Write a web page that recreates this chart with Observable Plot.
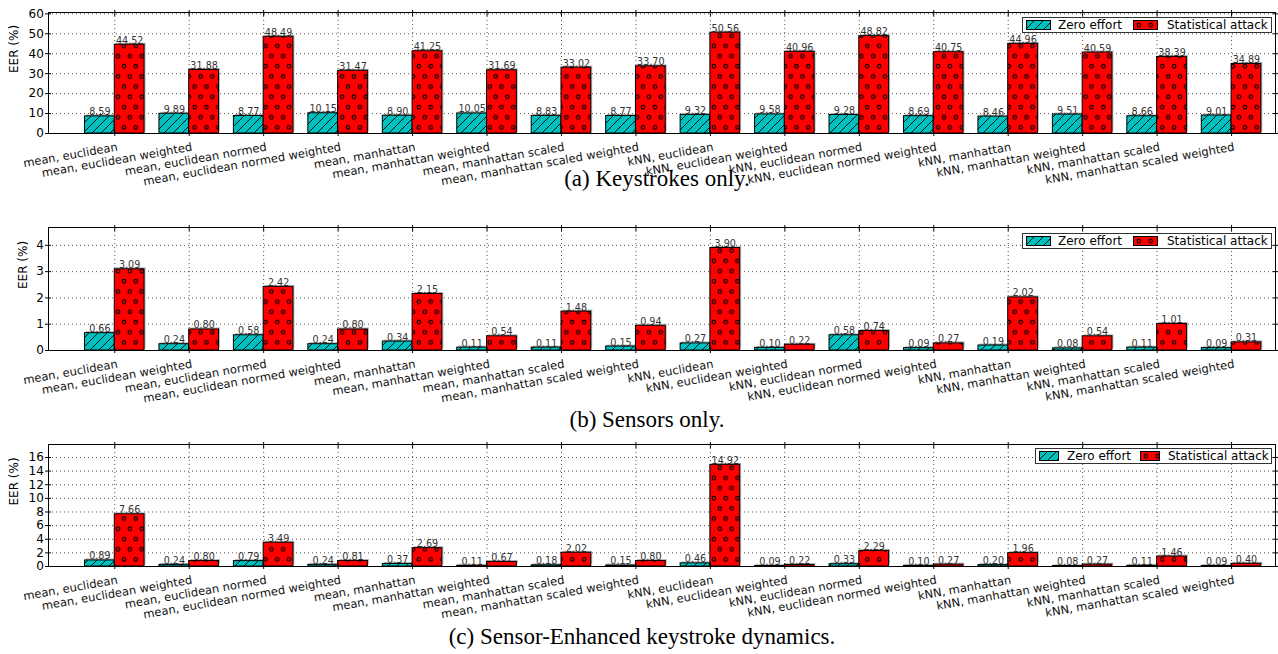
<!DOCTYPE html>
<html><head><meta charset="utf-8">
<script src="https://cdn.jsdelivr.net/npm/d3@7"></script>
<script src="https://cdn.jsdelivr.net/npm/@observablehq/plot@0.6"></script>
<style>
body{margin:0;background:#fff;width:1278px;height:654px;position:relative;overflow:hidden;font-family:"DejaVu Sans",sans-serif;}
.panel{position:absolute;left:0;}
.panel svg{overflow:visible;background:transparent;}
.caption{position:absolute;font-family:"Liberation Serif",serif;font-size:23px;line-height:23px;white-space:nowrap;transform:translateX(-50%);z-index:2;color:#000;}
.legend{position:absolute;border:1px solid #333;background:#fff;box-sizing:border-box;z-index:3;font-size:12px;color:#000;}
.legend span{position:absolute;white-space:nowrap;line-height:12px;}
.legend svg{position:absolute;}
</style></head><body>
<svg width="0" height="0" style="position:absolute">
<defs>
<pattern id="hatchC" patternUnits="userSpaceOnUse" width="9" height="9">
<rect width="9" height="9" fill="#00bfbf"/>
<path d="M0,9 L9,0 M-2,2 L2,-2 M7,11 L11,7" stroke="#000" stroke-width="0.9"/>
</pattern>
<pattern id="dotsR" patternUnits="userSpaceOnUse" width="11.8" height="20.4">
<rect width="11.8" height="20.4" fill="#ff0000"/>
<circle cx="5.9" cy="5.1" r="1.8" fill="none" stroke="#000" stroke-width="1.1"/>
<circle cx="0" cy="15.3" r="1.8" fill="none" stroke="#000" stroke-width="1.1"/>
<circle cx="11.8" cy="15.3" r="1.8" fill="none" stroke="#000" stroke-width="1.1"/>
</pattern>
</defs>
</svg>
<div id="root"></div>
<script>
// ---------- data ----------
const categories = [
  "mean, euclidean", "mean, euclidean weighted", "mean, euclidean normed", "mean, euclidean normed weighted",
  "mean, manhattan", "mean, manhattan weighted", "mean, manhattan scaled", "mean, manhattan scaled weighted",
  "kNN, euclidean", "kNN, euclidean weighted", "kNN, euclidean normed", "kNN, euclidean normed weighted",
  "kNN, manhattan", "kNN, manhattan weighted", "kNN, manhattan scaled", "kNN, manhattan scaled weighted"
];
const seriesNames = ["Zero effort", "Statistical attack"];
const yLabel = "EER (%)";

const zeroA = [8.59, 9.89, 8.77, 10.15, 8.90, 10.05, 8.83, 8.77, 9.32, 9.58, 9.28, 8.69, 8.46, 9.51, 8.66, 9.01];
const statA = [44.52, 31.88, 48.49, 31.47, 41.25, 31.69, 33.02, 33.70, 50.56, 40.96, 48.82, 40.75, 44.96, 40.59, 38.39, 34.89];
const zeroB = [0.66, 0.24, 0.58, 0.24, 0.34, 0.11, 0.11, 0.15, 0.27, 0.10, 0.58, 0.09, 0.19, 0.08, 0.11, 0.09];
const statB = [3.09, 0.80, 2.42, 0.80, 2.15, 0.54, 1.48, 0.94, 3.90, 0.22, 0.74, 0.27, 2.02, 0.54, 1.01, 0.31];
const zeroC = [0.89, 0.24, 0.79, 0.24, 0.37, 0.11, 0.18, 0.15, 0.46, 0.09, 0.33, 0.10, 0.20, 0.08, 0.11, 0.09];
const statC = [7.66, 0.80, 3.49, 0.81, 2.69, 0.67, 2.02, 0.80, 14.92, 0.22, 2.29, 0.27, 1.96, 0.27, 1.46, 0.40];

const yTicksA = [0, 10, 20, 30, 40, 50, 60];
const yTicksB = [0, 1, 2, 3, 4];
const yTicksC = [0, 2, 4, 6, 8, 10, 12, 14, 16];

const captions = ["(a) Keystrokes only.", "(b) Sensors only.", "(c) Sensor-Enhanced keystroke dynamics."];

// ---------- layout ----------
const layouts = [
  {top: 0,   marginTop: 12, plotH: 121, ylabX: 14, capX: 657, capTop: 166.5,
   legend: {left: 1022, top: 16.5, width: 250, height: 16, sw: 25, t1: 35, s2: 110, t2: 144}},
  {top: 215, marginTop: 12, plotH: 123, ylabX: 23, capX: 647, capTop: 407.5,
   legend: {left: 1022, top: 232.5, width: 250, height: 16, sw: 25, t1: 35, s2: 110, t2: 144}},
  {top: 432, marginTop: 12, plotH: 122, ylabX: 14, capX: 642, capTop: 624.5,
   legend: {left: 1035, top: 447.5, width: 237, height: 16, sw: 20, t1: 31, s2: 104, t2: 132}}
];

const root = document.getElementById("root");

function drawPanel(zero, stat, yTicks, caption, L) {
  const rows = categories.map((c, i) => ({i, c, zero: zero[i], stat: stat[i]}));
  const idx = rows.map(d => d.i);
  const ymax = d3.max(stat) * 1.2;
  const H = 200;
  const dotted = {stroke: "#000", strokeWidth: 0.8, strokeDasharray: "1,3", strokeOpacity: 0.85};
  const chart = Plot.plot({
    width: 1278, height: H,
    marginLeft: 48, marginRight: 3, marginTop: L.marginTop, marginBottom: H - L.marginTop - L.plotH,
    style: {fontFamily: "DejaVu Sans", fontSize: "12px", background: "transparent", overflow: "visible"},
    x: {type: "linear", domain: [-0.89, 15.59]},
    y: {type: "linear", domain: [0, ymax]},
    marks: [
      Plot.ruleY(yTicks, {y: d => d, ...dotted}),
      Plot.ruleX(idx, {x: d => d, ...dotted}),
      // soft shadows
      Plot.rect(rows, {x1: d => d.i - 0.4, x2: d => d.i, y1: 0, y2: "zero", fill: "#b8b8b8", dx: 1.5, dy: -1.5}),
      Plot.rect(rows, {x1: d => d.i, x2: d => d.i + 0.4, y1: 0, y2: "stat", fill: "#b8b8b8", dx: 1.5, dy: -1.5}),
      // bars
      Plot.rect(rows, {x1: d => d.i - 0.4, x2: d => d.i, y1: 0, y2: "zero", fill: "url(#hatchC)", stroke: "#000", strokeWidth: 1}),
      Plot.rect(rows, {x1: d => d.i, x2: d => d.i + 0.4, y1: 0, y2: "stat", fill: "url(#dotsR)", stroke: "#000", strokeWidth: 1}),
      // value labels
      Plot.text(rows, {x: d => d.i - 0.2, y: "zero", text: d => d.zero.toFixed(2), lineAnchor: "bottom", dy: -1, fontSize: 9.6, fill: "#333"}),
      Plot.text(rows, {x: d => d.i + 0.2, y: "stat", text: d => d.stat.toFixed(2), lineAnchor: "bottom", dy: -1, fontSize: 9.6, fill: "#333"}),
      // axes
      Plot.axisY(yTicks, {anchor: "left", tickSize: 6, dx: 3, tickPadding: 1.7, label: null}),
      Plot.axisY(yTicks, {anchor: "right", tickSize: 6, dx: -3, tickFormat: () => "", label: null}),
      Plot.axisX(idx, {anchor: "bottom", tickSize: 6, dy: -3, tickFormat: () => "", label: null}),
      Plot.axisX(idx, {anchor: "top", tickSize: 6, dy: 3, tickFormat: () => "", label: null}),
      Plot.frame({stroke: "#000", strokeWidth: 1}),
      // category labels
      Plot.text(rows, {x: "i", y: 0, text: "c", rotate: -10, textAnchor: "end", lineAnchor: "top", dx: 2, dy: 9, fontSize: 11.5, fill: "#111"}),
      // y label
      Plot.text([yLabel], {frameAnchor: "left", text: d => d, rotate: -90, dx: L.ylabX - 48})
    ]
  });
  const wrap = document.createElement("div");
  wrap.className = "panel";
  wrap.style.top = L.top + "px";
  wrap.appendChild(chart);
  root.appendChild(wrap);

  const cap = document.createElement("div");
  cap.className = "caption";
  cap.textContent = caption;
  cap.style.left = L.capX + "px";
  cap.style.top = L.capTop + "px";
  root.appendChild(cap);

  const g = L.legend;
  const leg = document.createElement("div");
  leg.className = "legend";
  Object.assign(leg.style, {left: g.left + "px", top: g.top + "px", width: g.width + "px", height: g.height + "px"});
  const fills = ["url(#hatchC)", "url(#dotsR)"];
  const sx = [3, g.s2], tx = [g.t1, g.t2];
  seriesNames.forEach((name, k) => {
    const s = document.createElementNS("http://www.w3.org/2000/svg", "svg");
    s.setAttribute("width", g.sw); s.setAttribute("height", 10);
    s.style.left = sx[k] + "px"; s.style.top = "2px";
    s.innerHTML = `<rect x="0.5" y="0.5" width="${g.sw - 1}" height="9" fill="${fills[k]}" stroke="#000" stroke-width="1"/>`;
    leg.appendChild(s);
    const t = document.createElement("span");
    t.textContent = name;
    t.style.left = tx[k] + "px"; t.style.top = "1px";
    leg.appendChild(t);
  });
  root.appendChild(leg);
}

drawPanel(zeroA, statA, yTicksA, captions[0], layouts[0]);
drawPanel(zeroB, statB, yTicksB, captions[1], layouts[1]);
drawPanel(zeroC, statC, yTicksC, captions[2], layouts[2]);
</script>
</body></html>
